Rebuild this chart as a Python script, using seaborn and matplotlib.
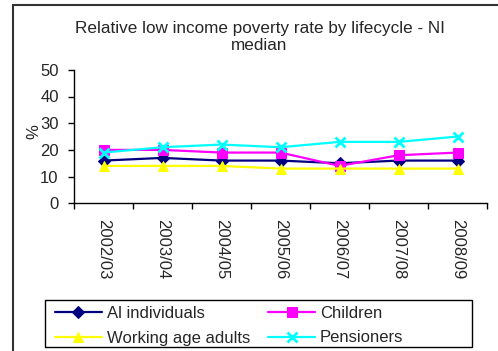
import matplotlib
matplotlib.use("Agg")
import matplotlib.pyplot as plt
from matplotlib.patches import Rectangle
import pandas as pd
import seaborn as sns

years = ["2002/03", "2003/04", "2004/05", "2005/06", "2006/07", "2007/08", "2008/09"]
all_individuals = [16, 17, 16, 16, 15, 16, 16]
children = [20, 20, 19, 19, 14, 18, 19]
working_age_adults = [14, 14, 14, 13, 13, 13, 13]
pensioners = [19, 21, 22, 21, 23, 23, 25]

series_names = ["Al individuals", "Children", "Working age adults", "Pensioners"]
series_values = [all_individuals, children, working_age_adults, pensioners]
colors = ["#000080", "#FF00FF", "#FFFF00", "#00FFFF"]
markers = ["D", "s", "^", "x"]

sns.set_style("white")
plt.rcParams["font.family"] = ["Liberation Sans", "DejaVu Sans"]

W, H = 498, 351
fig = plt.figure(figsize=(W / 100, H / 100), dpi=100)
ax = fig.add_axes([74 / W, 1 - 203.3 / H, 413 / W, 133.5 / H])

for name, vals, c, m in zip(series_names, series_values, colors, markers):
    df = pd.DataFrame({"year": years, "value": vals})
    sns.lineplot(
        data=df, x="year", y="value", sort=False, color=c, marker=m,
        markersize=7 if m == "x" else 6.5, linewidth=1.6,
        markeredgecolor=c, markerfacecolor=c,
        markeredgewidth=2.0 if m == "x" else 0.75, label=name, ax=ax,
    )
if ax.get_legend() is not None:
    ax.get_legend().remove()

ax.set_xlim(-0.5, len(years) - 0.5)
ax.set_ylim(0, 50)
ax.set_yticks(range(0, 51, 10))
ax.set_xticks(range(len(years)))
ax.set_xticklabels(years, rotation=-90, fontsize=12)
ax.set_xticks([i - 0.5 for i in range(len(years) + 1)], minor=True)
ax.tick_params(axis="x", which="major", length=0, pad=11)
ax.tick_params(axis="x", which="minor", length=4, width=1, direction="out", color="black", bottom=True)
ax.tick_params(axis="y", length=4, width=1, direction="out", color="black", left=True, labelsize=12, pad=7)

for side in ["top", "right"]:
    ax.spines[side].set_visible(False)
for side in ["left", "bottom"]:
    ax.spines[side].set_color("black")
    ax.spines[side].set_linewidth(1)

ax.set_xlabel("")
ax.set_ylabel("%", fontsize=12)
ax.yaxis.set_label_coords(-0.08, 0.54)

# two-line chart title
fig.text(259.5 / W, 1 - 33.5 / H, "Relative low income poverty rate by lifecycle - NI",
         ha="center", va="baseline", fontsize=12.3)
fig.text(259.5 / W, 1 - 50 / H, "median",
         ha="center", va="baseline", fontsize=12.3)

order = [0, 2, 1, 3]
handles = [ax.lines[i] for i in order]
labels = [series_names[i] for i in order]
leg = fig.legend(
    handles, labels, ncol=2, loc="upper left",
    bbox_to_anchor=(55 / W, 1 - 305.5 / H),
    fontsize=12, frameon=False,
    handlelength=2.8, handletextpad=0.3, columnspacing=1.1,
    labelspacing=0.6, borderpad=0, borderaxespad=0,
)

# legend box
fig.add_artist(Rectangle((45 / W, 1 - 347 / H), 427 / W, 47 / H,
                         transform=fig.transFigure, fill=False,
                         edgecolor="black", linewidth=1))

# chart area border
fig.add_artist(Rectangle((13 / W, -0.1), 1.0, 1.1 - 5 / H,
                         transform=fig.transFigure, fill=False,
                         edgecolor="#333333", linewidth=1.5))

fig.savefig("out.png", dpi=100)
